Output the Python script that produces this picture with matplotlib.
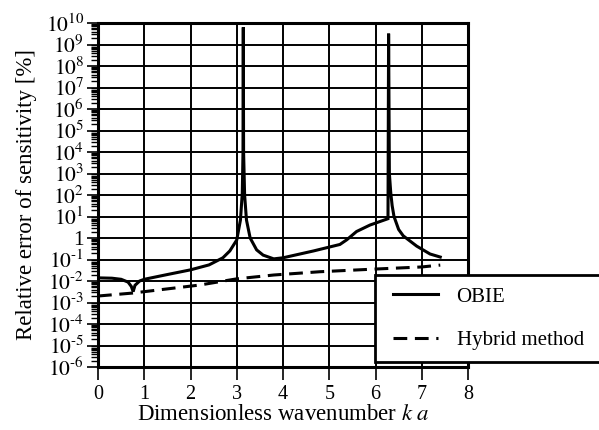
import numpy as np
import matplotlib
matplotlib.use("Agg")
import matplotlib.pyplot as plt
from matplotlib.ticker import FixedLocator, FixedFormatter, LogLocator, NullFormatter
from matplotlib.patches import Rectangle

# ---- data ----
obie_ka = [0.0, 0.3, 0.5, 0.65, 0.72, 0.76, 0.80, 0.9, 1.0, 1.5, 2.0, 2.4, 2.7, 2.85,
           3.0, 3.08, 3.12, 3.135, 3.1416, 3.148, 3.17, 3.21, 3.29, 3.43, 3.57, 3.8,
           4.0, 4.66, 5.23, 5.38, 5.59, 5.88, 6.27, 6.2832, 6.30, 6.33, 6.36, 6.4,
           6.5, 6.6, 6.89, 7.18, 7.4]
obie_err = [1.4e-2, 1.35e-2, 1.2e-2, 8.9e-3, 5.6e-3, 3.2e-3, 6.3e-3, 1.0e-2, 1.2e-2,
            2.0e-2, 3.3e-2, 5.6e-2, 0.12, 0.25,
            0.81, 6.9, 126, 1e4, 6.3e9, 1e4, 100, 6.9, 1.0, 0.28, 0.16, 0.107,
            0.12, 0.25, 0.5, 0.83, 2.0, 4.0, 7.9, 3.2e9, 1000, 126, 32, 10,
            2.5, 1.26, 0.42, 0.18, 0.13]

hybrid_ka = [0.0, 0.75, 1.5, 2.2, 3.0, 3.8, 4.8, 6.0, 7.0, 7.4]
hybrid_err = [2.0e-3, 2.75e-3, 4.3e-3, 6.5e-3, 1.26e-2, 1.9e-2, 2.7e-2, 3.6e-2, 4.5e-2, 5.5e-2]

x_ticks = [0, 1, 2, 3, 4, 5, 6, 7, 8]
y_exponents = list(range(-6, 11))
y_ticklabels = ['1' if e == 0 else
                (r'$10^{\text{-}%d}$' % -e if e < 0 else r'$10^{%d}$' % e)
                for e in y_exponents]

# ---- style ----
plt.rcParams['font.family'] = ['Liberation Serif', 'DejaVu Serif']
plt.rcParams['mathtext.fontset'] = 'stix'

W, H = 599, 430
fig = plt.figure(figsize=(W/100, H/100), dpi=100)
ax = fig.add_axes([98/W, 1-367/H, 370/W, 344/H])

ax.plot(obie_ka, obie_err, color='black', lw=2.2, solid_joinstyle='miter', label='OBIE', zorder=3)
ax.plot(hybrid_ka, hybrid_err, color='black', lw=2.2, ls=(0, (4.5, 2.5)), label='Hybrid method', zorder=3)

ax.set_yscale('log')
ax.set_xlim(0, 8)
ax.set_ylim(1e-6, 1e10)

yt = [10.0**e for e in y_exponents]
ax.yaxis.set_major_locator(FixedLocator(yt))
ax.yaxis.set_major_formatter(FixedFormatter(y_ticklabels))
ax.yaxis.set_minor_locator(LogLocator(base=10, subs=np.arange(2, 10), numticks=200))
ax.yaxis.set_minor_formatter(NullFormatter())
ax.set_xticks(x_ticks)
ax.set_xticklabels([str(t) for t in x_ticks])

ax.grid(True, which='major', color='black', lw=1.4)
for s in ax.spines.values():
    s.set_linewidth(2.2)
ax.tick_params(axis='x', which='major', direction='out', length=9, width=1.2, labelsize=14.5, pad=4)
ax.tick_params(axis='y', which='major', direction='out', length=8, width=1.2, labelsize=15.5, pad=2)
ax.tick_params(axis='y', which='minor', direction='out', length=5, width=1.0)

ax.set_xlabel(r'Dimensionless wavenumber $\mathit{k\ a}$', fontsize=16.5, labelpad=0)
ax.set_ylabel('Relative error of sensitivity [%]', fontsize=16.5, labelpad=6)

# legend box (extends beyond the right edge of the figure, as in the reference)
box = Rectangle((375/W, 1-362/H), 260/W, 87/H, transform=fig.transFigure,
                facecolor='white', edgecolor='black', lw=2.0, clip_on=False, zorder=4)
ax.add_patch(box)

leg = ax.legend(loc='upper left', bbox_to_anchor=(393/W, 1-287/H),
                bbox_transform=fig.transFigure, fontsize=15, frameon=False,
                handlelength=2.15, handletextpad=0.9, labelspacing=1.15, borderpad=0,
                borderaxespad=0)
leg.set_zorder(5)

fig.savefig('out.png', dpi=100)
